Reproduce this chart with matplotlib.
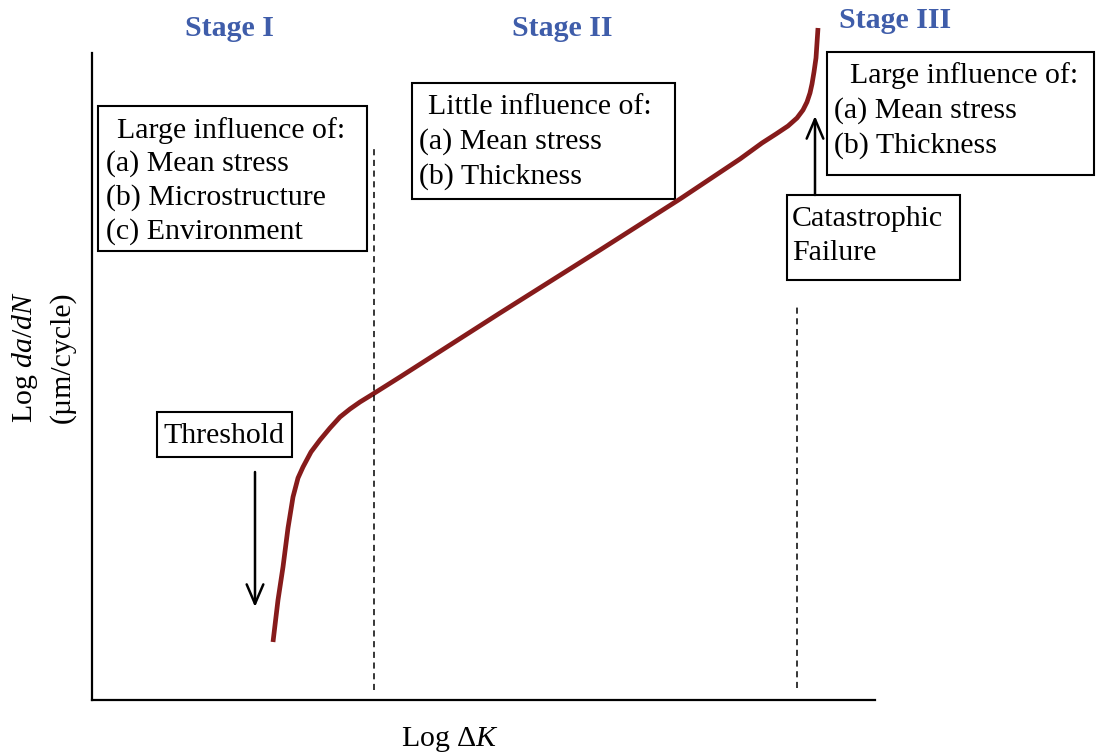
import matplotlib.pyplot as plt
from matplotlib.patches import Rectangle

plt.rcParams['font.family'] = ['Liberation Serif', 'DejaVu Serif']
plt.rcParams['mathtext.fontset'] = 'custom'
plt.rcParams['mathtext.rm'] = 'Liberation Serif'
plt.rcParams['mathtext.it'] = 'Liberation Serif:italic'

# schematic crack growth curve (arbitrary log units)
log_dk = [181, 186, 191, 196, 201, 206, 211, 219, 228, 238, 248, 258, 268, 281,
          308, 408, 508, 588, 648, 670, 684, 696, 705, 711, 715, 718, 720, 722,
          724, 725, 726]
log_dadn = [58, 100, 133, 172, 203, 222, 233, 248, 260, 272, 283, 291, 298, 306,
            323, 387, 450, 501, 541, 557, 566, 574, 582, 590, 598, 607, 616, 628,
            642, 657, 672]

stage_names = ['Stage I', 'Stage II', 'Stage III']
box_texts = [
    ['Large influence of:', '(a) Mean stress', '(b) Microstructure', '(c) Environment'],
    ['Little influence of:', '(a) Mean stress', '(b) Thickness'],
    ['Large influence of:', '(a) Mean stress', '(b) Thickness'],
]

W, H = 1096, 756
X0, Y0 = 92, 700          # axis origin in pixels
XMAX, YTOP = 875, 53


def px(x):
    return x - X0


def py(y):
    return Y0 - y


fig = plt.figure(figsize=(W / 100, H / 100), dpi=100)
ax = fig.add_axes([X0 / W, (H - Y0) / H, (XMAX - X0) / W, (Y0 - YTOP) / H])
ax.set_xlim(0, XMAX - X0)
ax.set_ylim(0, Y0 - YTOP)
for s in ['top', 'right']:
    ax.spines[s].set_visible(False)
for s in ['left', 'bottom']:
    ax.spines[s].set_linewidth(1.6)
ax.set_xticks([])
ax.set_yticks([])

ax.plot(log_dk, log_dadn, color='#861B1B', lw=3.4, clip_on=False,
        solid_capstyle='butt', solid_joinstyle='round')

# stage boundaries
ax.plot([px(374), px(374)], [py(690), py(148)], ls=(0, (4, 3)), color='black', lw=1.1)
ax.plot([px(797), px(797)], [py(688), py(307)], ls=(0, (4, 3)), color='black', lw=1.1)

blue = '#3F5DAA'
fs = 21.5
for name, (x, y) in zip(stage_names, [(229, 28), (562, 28), (895, 20)]):
    ax.text(px(x), py(y), name, ha='center', va='center', fontsize=fs,
            fontweight='bold', color=blue)


def box(x0, y0, x1, y1):
    ax.add_patch(Rectangle((px(x0), py(y1)), x1 - x0, y1 - y0, fill=False,
                           lw=1.5, ec='black', clip_on=False))


# stage I
box(98, 106, 367, 251)
lines = box_texts[0]
ax.text(px(231), py(131), lines[0], ha='center', va='center', fontsize=fs)
for i, t in enumerate(lines[1:]):
    ax.text(px(106), py(164 + 34 * i), t, ha='left', va='center', fontsize=fs)

# stage II
box(412, 83, 675, 199)
lines = box_texts[1]
ax.text(px(540), py(107), lines[0], ha='center', va='center', fontsize=fs)
for i, t in enumerate(lines[1:]):
    ax.text(px(419), py(142 + 35 * i), t, ha='left', va='center', fontsize=fs)

# stage III
box(827, 52, 1094, 175)
lines = box_texts[2]
ax.text(px(964), py(76), lines[0], ha='center', va='center', fontsize=fs)
for i, t in enumerate(lines[1:]):
    ax.text(px(834), py(111 + 35 * i), t, ha='left', va='center', fontsize=fs)

# catastrophic failure
box(787, 195, 960, 280)
ax.text(px(792), py(219), 'Catastrophic', ha='left', va='center', fontsize=fs)
ax.text(px(792), py(253), 'Failure', ha='left', va='center', fontsize=fs)
ax.annotate('', xy=(px(815), py(116)), xytext=(px(815), py(195)),
            arrowprops=dict(arrowstyle='->,head_length=0.7,head_width=0.3',
                            lw=1.8, color='black', mutation_scale=20,
                            shrinkA=0, shrinkB=0), annotation_clip=False)

# threshold
box(157, 412, 292, 457)
ax.text(px(224), py(436), 'Threshold', ha='center', va='center', fontsize=fs)
ax.annotate('', xy=(px(255), py(607)), xytext=(px(255), py(472)),
            arrowprops=dict(arrowstyle='->,head_length=0.7,head_width=0.3',
                            lw=1.8, color='black', mutation_scale=20,
                            shrinkA=0, shrinkB=0), annotation_clip=False)

# axis labels
fig.text(25 / W, 1 - 357 / H, 'Log $da/dN$', rotation=90, ha='center',
         va='center', fontsize=fs)
fig.text(62 / W, 1 - 357 / H, '(\u00b5m/cycle)', rotation=90, ha='center',
         va='center', fontsize=fs)
fig.text(450 / W, 1 - 740 / H, 'Log \u0394$K$', ha='center', va='center',
         fontsize=fs)

fig.savefig('out.png', dpi=100)
